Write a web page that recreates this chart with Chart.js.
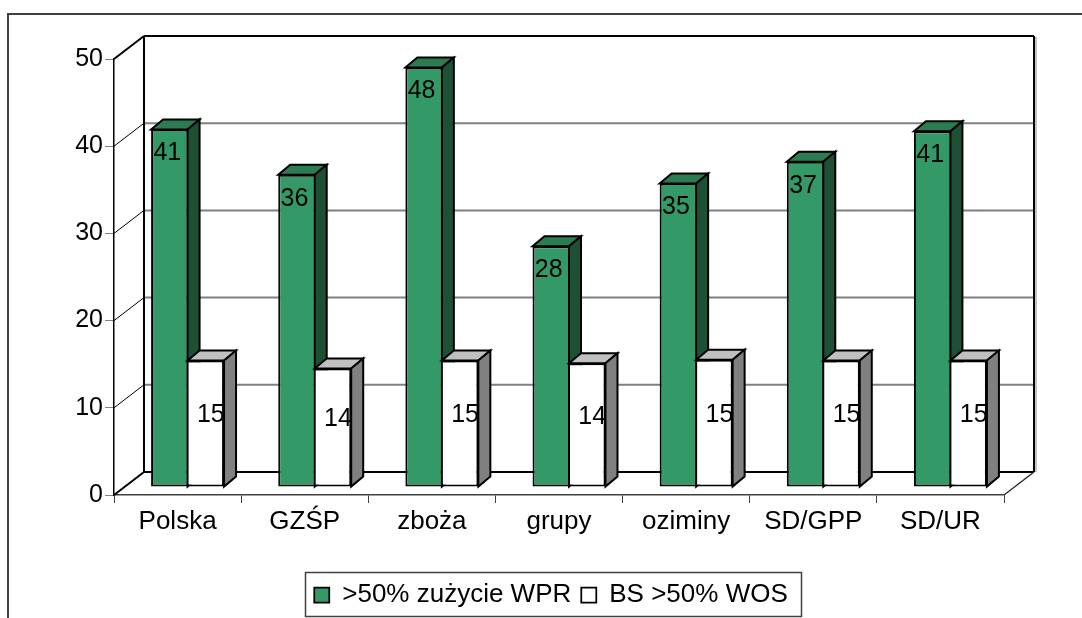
<!DOCTYPE html>
<html><head><meta charset="utf-8">
<script src="https://cdn.jsdelivr.net/npm/chart.js@4/dist/chart.umd.min.js"></script>
<style>html,body{margin:0;padding:0;background:#fff;} #wrap{width:1082px;height:618px;position:relative;}</style>
</head><body><div id="wrap"><canvas id="c"></canvas></div>
<script>
const categories = ['Polska', 'GZŚP', 'zboża', 'grupy', 'oziminy', 'SD/GPP', 'SD/UR'];
const seriesNames = ['>50% zużycie WPR', 'BS >50% WOS'];
const valuesWPR = [41.0, 35.8, 48.1, 27.6, 34.8, 37.3, 40.8];
const valuesWOS = [14.5, 13.6, 14.5, 14.2, 14.6, 14.5, 14.5];
const yTicks = [0, 10, 20, 30, 40, 50];

const FONT = "'Liberation Sans', Arial, sans-serif";
const BAR_OFF = {x: 10, y: -8};
const BAR_DEPTH = {x: 12, y: -10};
const WALL_OFF = {x: 30, y: -23};
const faces = [
  {front: '#339966', top: '#2b7c52', side: '#1e5036'},
  {front: '#ffffff', top: '#c0c0c0', side: '#808080'}
];

function line(ctx, x1, y1, x2, y2, color, w) {
  ctx.beginPath(); ctx.moveTo(x1, y1); ctx.lineTo(x2, y2);
  ctx.strokeStyle = color; ctx.lineWidth = w; ctx.stroke();
}

const threeD = {
  id: 'threeD',
  beforeDraw(chart) {
    const ctx = chart.ctx;
    ctx.save();
    ctx.lineCap = 'square';
    line(ctx, 8, 14, chart.width + 2, 14, '#404040', 2);
    line(ctx, 8, 14, 8, chart.height + 2, '#404040', 2);
    ctx.restore();
  },
  beforeDatasetsDraw(chart) {
    const {ctx, chartArea: a, scales: {y}} = chart;
    const L = a.left, R = a.right;
    const vMin = Math.min(...yTicks), vMax = Math.max(...yTicks);
    ctx.save();
    yTicks.forEach(v => {
      const yf = y.getPixelForValue(v);
      const yb = yf + WALL_OFF.y;
      const edge = (v === vMin || v === vMax);
      line(ctx, L + WALL_OFF.x, yb, R + WALL_OFF.x, yb, edge ? '#000' : '#808080', 2);
      line(ctx, L, yf, L + WALL_OFF.x, yb, '#000', edge ? 2 : 1);
    });
    const yTop = y.getPixelForValue(vMax) + WALL_OFF.y;
    const yBot = y.getPixelForValue(vMin) + WALL_OFF.y;
    line(ctx, L + WALL_OFF.x, yTop, L + WALL_OFF.x, yBot, '#000', 2);
    line(ctx, R + WALL_OFF.x + 2, yTop + 1, R + WALL_OFF.x + 2, yBot, '#b0b0b0', 1.5);
    line(ctx, R + WALL_OFF.x, yTop, R + WALL_OFF.x, yBot, '#000', 2);
    line(ctx, R, y.getPixelForValue(vMin), R + WALL_OFF.x, yBot, '#202020', 1.2);
    ctx.restore();
  },
  beforeDatasetDraw() {
    return false; // bars are drawn below, series by series, with their 3D faces
  },
  afterDatasetsDraw(chart) {
    const ctx = chart.ctx;
    const metas = chart.data.datasets.map((ds, i) => chart.getDatasetMeta(i));
    ctx.save();
    ctx.translate(BAR_OFF.x, BAR_OFF.y);
    const dx = BAR_DEPTH.x, dy = BAR_DEPTH.y;
    metas.forEach((meta, i) => {
      const f = faces[i];
      meta.data.forEach(el => {
        el.draw(ctx);
        const p = el.getProps(['x', 'y', 'base', 'width'], true);
        const l = p.x - p.width / 2, r = p.x + p.width / 2;
        ctx.save();
        ctx.lineWidth = 2; ctx.strokeStyle = '#000'; ctx.lineJoin = 'miter';
        ctx.beginPath();
        ctx.moveTo(l, p.y); ctx.lineTo(l + dx, p.y + dy); ctx.lineTo(r + dx, p.y + dy); ctx.lineTo(r, p.y); ctx.closePath();
        ctx.fillStyle = f.top; ctx.fill(); ctx.stroke();
        ctx.beginPath();
        ctx.moveTo(r, p.y); ctx.lineTo(r + dx, p.y + dy); ctx.lineTo(r + dx, p.base + dy); ctx.lineTo(r, p.base); ctx.closePath();
        ctx.fillStyle = f.side; ctx.fill(); ctx.stroke();
        ctx.restore();
      });
    });
    ctx.font = '25px ' + FONT;
    ctx.fillStyle = '#000';
    ctx.textAlign = 'center';
    ctx.textBaseline = 'middle';
    chart.data.datasets.forEach((ds, i) => {
      metas[i].data.forEach((el, j) => {
        const p = el.getProps(['x', 'y', 'base'], true);
        const txt = String(Math.round(ds.data[j]));
        if (i === 0) ctx.fillText(txt, p.x - 2, p.y + 24);
        else ctx.fillText(txt, p.x + 5, (p.y + p.base) / 2 - 8);
      });
    });
    ctx.restore();
  },
  afterDraw(chart) {
    const lg = chart.legend;
    if (!lg || !lg.legendHitBoxes || !lg.legendHitBoxes.length) return;
    const hb = lg.legendHitBoxes;
    const last = hb[hb.length - 1];
    const ctx = chart.ctx;
    ctx.save();
    ctx.strokeStyle = '#404040'; ctx.lineWidth = 1.5;
    const x1 = Math.round(hb[0].left - 9) + 0.5, x2 = Math.round(last.left + last.width + 13) + 0.5;
    const y1 = Math.round(lg.top) + 0.5, y2 = Math.round(lg.bottom) - 1.5;
    ctx.strokeRect(x1, y1, x2 - x1, y2 - y1);
    ctx.restore();
  }
};

new Chart(document.getElementById('c'), {
  type: 'bar',
  data: {
    labels: categories,
    datasets: [
      {label: seriesNames[0], data: valuesWPR, backgroundColor: faces[0].front, borderColor: '#000',
       borderWidth: {top: 2, left: 2, bottom: 2, right: 1}, borderSkipped: false, clip: false},
      {label: seriesNames[1], data: valuesWOS, backgroundColor: faces[1].front, borderColor: '#000',
       borderWidth: {top: 2, left: 1, bottom: 2, right: 2}, borderSkipped: false, clip: false}
    ]
  },
  options: {
    responsive: true,
    maintainAspectRatio: false,
    devicePixelRatio: 1,
    animation: false,
    datasets: {bar: {barPercentage: 1, categoryPercentage: 0.574}},
    layout: {padding: {top: 59, left: 20, right: 0, bottom: 0}},
    plugins: {
      tooltip: {enabled: false},
      legend: {
        position: 'bottom',
        labels: {font: {family: FONT, size: 26}, color: '#000', boxWidth: 15, boxHeight: 15, padding: 10}
      }
    },
    scales: {
      x: {
        offset: true,
        grid: {display: true, drawOnChartArea: false, drawTicks: true, tickLength: 8, color: '#404040', offset: true},
        border: {display: true, color: '#404040', width: 1.5},
        ticks: {font: {family: FONT, size: 26}, color: '#000', padding: 3, maxRotation: 0, autoSkip: false},
        afterFit(s) { s.height = 77; }
      },
      y: {
        min: 0, max: 50,
        afterBuildTicks(s) { s.ticks = yTicks.map(v => ({value: v})); },
        grid: {display: true, drawOnChartArea: false, drawTicks: true, tickLength: 9, color: '#808080'},
        border: {display: true, color: '#000', width: 1.5},
        ticks: {font: {family: FONT, size: 25}, color: '#000', padding: 2},
        afterFit(s) { s.width = 94; }
      },
      yR: {
        type: 'linear', position: 'right', display: true, min: 0, max: 1,
        grid: {display: false}, border: {display: false}, ticks: {display: false},
        afterFit(s) { s.width = 78; }
      }
    }
  },
  plugins: [threeD]
});
</script>
</body></html>
